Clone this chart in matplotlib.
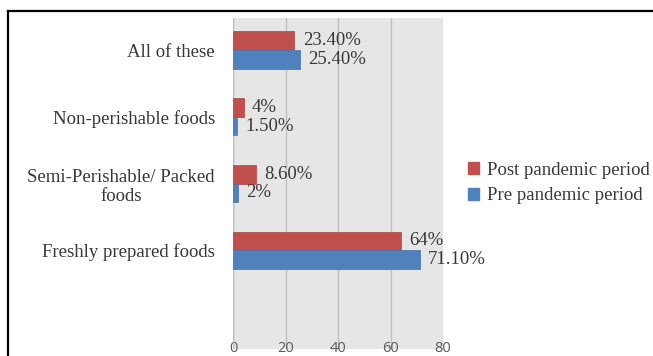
import matplotlib.pyplot as plt
from matplotlib.lines import Line2D
from matplotlib.patches import Patch

categories = ["All of these", "Non-perishable foods",
              "Semi-Perishable/ Packed\nfoods", "Freshly prepared foods"]
post_values = [23.4, 4, 8.6, 64]
pre_values = [25.4, 1.5, 2, 71.1]
post_labels = ["23.40%", "4%", "8.60%", "64%"]
pre_labels = ["25.40%", "1.50%", "2%", "71.10%"]
x_ticks = [0, 20, 40, 60, 80]

RED = "#C0504D"
BLUE = "#4F81BD"
SERIF = ["Liberation Serif", "DejaVu Serif"]

fig = plt.figure(figsize=(6.53, 3.56), dpi=100)
W, H = 653, 356

# frame around the chart (top and left edges only)
fig.add_artist(Line2D([8 / W, 8 / W], [0, 1 - 11 / H], color="black", lw=1.6,
                      transform=fig.transFigure, solid_capstyle="projecting"))
fig.add_artist(Line2D([8 / W, 1], [1 - 11 / H, 1 - 11 / H], color="black", lw=1.6,
                      transform=fig.transFigure, solid_capstyle="projecting"))

ax = fig.add_axes([233 / W, 1 - 349 / H, 210 / W, 331 / H])
ax.set_facecolor("#E6E6E6")
for s in ax.spines.values():
    s.set_visible(False)

pos = list(range(len(categories)))
bh = 0.28
ax.barh([p - bh / 2 for p in pos], post_values, height=bh, color=RED,
        edgecolor="#B04541", lw=0.5, label="Post pandemic period", zorder=3)
ax.barh([p + bh / 2 for p in pos], pre_values, height=bh, color=BLUE,
        edgecolor="#4272AB", lw=0.5, label="Pre pandemic period", zorder=3)

for p, v, t in zip(pos, post_values, post_labels):
    ax.annotate(t, (v, p - bh / 2), xytext=(6, 0), textcoords="offset points",
                va="center", ha="left", fontsize=13.5, family=SERIF,
                color="#383838", annotation_clip=False, zorder=4)
for p, v, t in zip(pos, pre_values, pre_labels):
    ax.annotate(t, (v, p + bh / 2), xytext=(6, 0), textcoords="offset points",
                va="center", ha="left", fontsize=13.5, family=SERIF,
                color="#383838", annotation_clip=False, zorder=4)

ax.set_xlim(0, 80)
ax.set_ylim(4.48, -0.48)
ax.set_xticks(x_ticks)
ax.xaxis.grid(True, color="#BFBFBF", lw=1)
ax.axvline(0, color="#BFBFBF", lw=1)
ax.tick_params(axis="x", length=0, pad=-6, labelsize=10.5, labelcolor="#595959")
for lab in ax.get_xticklabels():
    lab.set_family(["Open Sans", "DejaVu Sans"])

ax.set_yticks(pos)
ax.set_yticklabels(categories, fontsize=13.5, family=SERIF, color="#383838",
                   multialignment="center")
ax.tick_params(axis="y", length=0, pad=13)

handles = [Patch(color=RED), Patch(color=BLUE)]
fig.legend(handles, ["Post pandemic period", "Pre pandemic period"],
           loc="center left", bbox_to_anchor=(451 / W, 1 - 183 / H),
           frameon=False, handlelength=0.6, handleheight=0.6, handletextpad=0.4,
           labelspacing=0.45, prop={"family": SERIF, "size": 13.5},
           labelcolor="#383838")

fig.savefig("out.png", dpi=100)
